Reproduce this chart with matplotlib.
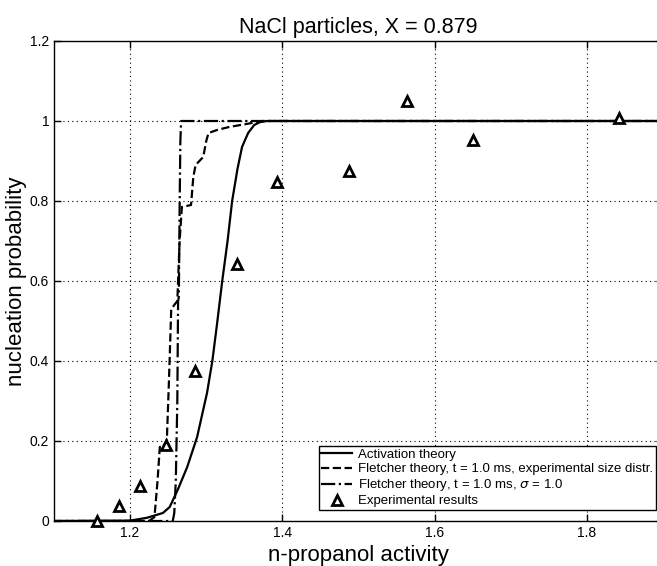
# Nucleation probability of NaCl particles vs n-propanol activity
import matplotlib.pyplot as plt
import numpy as np

plt.rcParams['font.family'] = ['Liberation Sans', 'DejaVu Sans']

# activation theory (solid line)
act_x = [1.10, 1.20, 1.222, 1.243, 1.252, 1.263, 1.275, 1.288, 1.301, 1.308,
         1.314, 1.321, 1.328, 1.334, 1.341, 1.347, 1.355, 1.363, 1.371, 1.38, 1.90]
act_y = [0, 0.001, 0.008, 0.02, 0.035, 0.08, 0.135, 0.21, 0.32, 0.40,
         0.49, 0.60, 0.70, 0.80, 0.88, 0.935, 0.97, 0.99, 0.9975, 1.0, 1.0]

# Fletcher theory, experimental size distribution (dashed)
fl_x = [1.10, 1.225, 1.232, 1.236, 1.239, 1.248, 1.251, 1.254, 1.262, 1.265, 1.268,
        1.280, 1.283, 1.286, 1.296, 1.300, 1.303, 1.315, 1.330, 1.345, 1.360, 1.375, 1.90]
fl_y = [0, 0, 0.01, 0.10, 0.185, 0.19, 0.35, 0.53, 0.55, 0.70, 0.785,
        0.79, 0.86, 0.89, 0.91, 0.95, 0.97, 0.978, 0.985, 0.99, 0.995, 1.0, 1.0]

# Fletcher theory, sigma = 1.0 (dash-dot)
fs_x = [1.10, 1.256, 1.258, 1.260, 1.262, 1.263, 1.264, 1.265, 1.266, 1.267, 1.90]
fs_y = [0, 0, 0.02, 0.10, 0.30, 0.55, 0.56, 0.78, 0.95, 1.0, 1.0]

# experimental results
exp_x = [1.156, 1.185, 1.213, 1.247, 1.285, 1.340, 1.393, 1.487, 1.564, 1.650, 1.842]
exp_y = [0.0, 0.0375, 0.0875, 0.19, 0.375, 0.6425, 0.8475, 0.876, 1.051, 0.9525, 1.008]

fig = plt.figure(figsize=(6.57, 5.66), dpi=100)
ax = fig.add_axes([54/657, 45/566, 609/657, 480/566])

ax.plot(act_x, act_y, '-k', lw=1.6, label='Activation theory')
ax.plot(fl_x, fl_y, '--k', lw=1.6, label='Fletcher theory, t = 1.0 ms, experimental size distr.')
ax.plot(fs_x, fs_y, '-.k', lw=1.6, label=r'Fletcher theory, t = 1.0 ms, $\sigma$ = 1.0')
ax.plot(exp_x, exp_y, '^', ls='none', mfc='white', mec='black', mew=2, ms=7.5,
        clip_on=False, zorder=5, label='Experimental results')

ax.set_xlim(1.1, 1.9)
ax.set_ylim(0, 1.2)
ax.set_xticks([1.2, 1.4, 1.6, 1.8])
ax.set_yticks([0, 0.2, 0.4, 0.6, 0.8, 1.0, 1.2])
ax.set_yticklabels(['0', '0.2', '0.4', '0.6', '0.8', '1', '1.2'])
ax.tick_params(direction='in', top=True, right=True, length=5, labelsize=10, width=1)
ax.grid(True, ls=(0, (1, 3)), color='black', lw=0.8)
for s in ax.spines.values():
    s.set_linewidth(1)

ax.set_title('NaCl particles, X = 0.879', fontsize=15.5, pad=6)
ax.set_xlabel('n-propanol activity', fontsize=16, labelpad=4)
ax.set_ylabel('nucleation probability', fontsize=16, labelpad=2)

leg = ax.legend(loc='lower right', bbox_to_anchor=(0.9885, 0.0229), borderaxespad=0,
                fontsize=9.5, fancybox=False, framealpha=1, edgecolor='black',
                handlelength=2.3, handletextpad=0.5, labelspacing=0.15,
                borderpad=0.2)
leg.get_frame().set_linewidth(1)

plt.savefig('out.png', dpi=100)
